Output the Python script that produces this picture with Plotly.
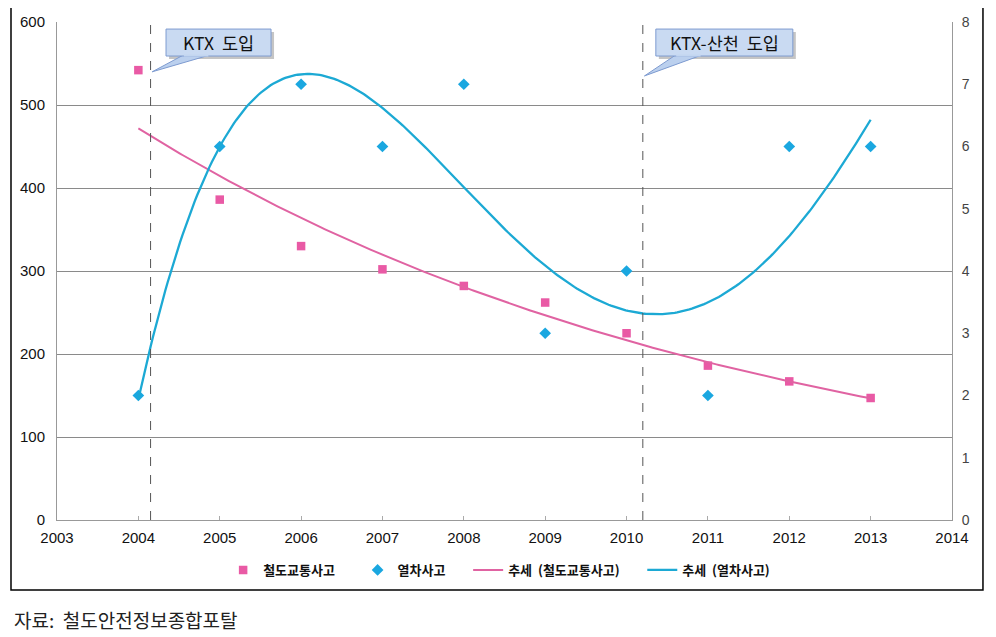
import numpy as np
import plotly.graph_objects as go

years = [2004, 2005, 2006, 2007, 2008, 2009, 2010, 2011, 2012, 2013]
rail_traffic = [542, 386, 330, 302, 282, 262, 225, 186, 167, 147]
train_acc = [2, 6, 7, 6, 7, 3, 4, 2, 6, 6]
event_years = [2004.15, 2010.2]
event_labels = ["KTX\u00a0\u00a0도입", "KTX-산천\u00a0\u00a0도입"]
source_text = "자료:\u00a0\u00a0철도안전정보종합포탈"
NB = "\u00a0"
series_names = ["철도교통사고", "열차사고", "추세" + NB * 2 + "(철도교통사고)", "추세" + NB * 2 + "(열차사고)"]

x = np.array(years, dtype=float)
xs = np.linspace(x.min(), x.max(), 300)

# Excel-style trend lines: exponential for rail traffic, 4th-order polynomial for train accidents
b, a = np.polyfit(x - 2004, np.log(rail_traffic), 1)
rail_trend = np.exp(a + b * (xs - 2004))
p4 = np.polyfit(x - x.mean(), train_acc, 4)
train_trend = np.polyval(p4, xs - x.mean())

PINK = "#E95AA5"
CYAN = "#1AA7E0"
pad = NB * 6

fig = go.Figure()
fig.add_trace(go.Scatter(x=years, y=rail_traffic, mode="markers", name=series_names[0] + pad,
                         marker=dict(symbol="square", size=8.5, color=PINK)))
fig.add_trace(go.Scatter(x=years, y=train_acc, mode="markers", name=series_names[1] + pad, yaxis="y2",
                         marker=dict(symbol="diamond", size=9, color=CYAN)))
fig.add_trace(go.Scatter(x=xs, y=rail_trend, mode="lines", name=series_names[2] + pad,
                         line=dict(color="#E063A2", width=2)))
fig.add_trace(go.Scatter(x=xs, y=train_trend, mode="lines", name=series_names[3], yaxis="y2",
                         line=dict(color="#1CA9D4", width=2.3)))

PX_PER_YEAR = 895 / 11.0
PX_PER_UNIT = 498 / 600.0
shapes = []
annotations = []
# outer chart border
shapes.append(dict(type="rect", xref="paper", yref="paper", x0=-0.0514, x1=1.0346, y0=-0.1406, y1=1.030,
                   line=dict(color="black", width=1.5), fillcolor="rgba(0,0,0,0)", layer="below"))
tip_vals = [540, 535]
box_offsets = [0.19, 0.16]
box_widths_px = [105, 137]
box_y0, box_y1 = 559.0, 591.5
for ev, lab, tip, off, wpx in zip(event_years, event_labels, tip_vals, box_offsets, box_widths_px):
    shapes.append(dict(type="line", xref="x", yref="y", x0=ev, x1=ev, y0=0, y1=600,
                       line=dict(color="#555", width=1, dash="dash")))
    bx0 = ev + off
    bx1 = bx0 + wpx / PX_PER_YEAR
    dx = 3 / PX_PER_YEAR
    dy = 3 / PX_PER_UNIT
    # shadow
    shapes.append(dict(type="rect", xref="x", yref="y", x0=bx0 + dx, x1=bx1 + dx, y0=box_y0 - dy, y1=box_y1 - dy,
                       fillcolor="rgba(90,90,90,0.35)", line=dict(width=0)))
    # callout wedge
    shapes.append(dict(type="path", xref="x", yref="y",
                       path=f"M {ev + 0.02} {tip} L {ev + 0.40} {box_y0 + 1} L {ev + 0.72} {box_y0 + 1} Z",
                       fillcolor="#BBD0EE", line=dict(color="#7E9BD0", width=1)))
    shapes.append(dict(type="rect", xref="x", yref="y", x0=bx0, x1=bx1, y0=box_y0, y1=box_y1,
                       fillcolor="#C9DAF2", line=dict(color="#7E9BD0", width=1)))
    # cover the wedge base edge
    shapes.append(dict(type="line", xref="x", yref="y", x0=ev + 0.41, x1=ev + 0.71, y0=box_y0 + 0.6, y1=box_y0 + 0.6,
                       line=dict(color="#C3D6F0", width=2)))
    annotations.append(dict(x=(bx0 + bx1) / 2, y=(box_y0 + box_y1) / 2, xref="x", yref="y",
                            xanchor="center", yanchor="middle", text=lab, showarrow=False,
                            font=dict(family="Noto Sans CJK KR", size=17.5, color="#111")))
annotations.append(dict(x=-0.0503, y=-0.2008, xref="paper", yref="paper", xanchor="left", yanchor="middle",
                        text=source_text, showarrow=False,
                        font=dict(family="Noto Sans CJK KR", size=19, color="#222")))

fig.update_layout(
    width=988, height=629, margin=dict(l=49, r=44, t=14, b=117, autoexpand=False),
    paper_bgcolor="white", plot_bgcolor="white",
    font=dict(family="Liberation Sans, Arial, sans-serif", size=15, color="#111"),
    xaxis=dict(range=[2003, 2014], dtick=1, tick0=2003, showgrid=False, showline=True,
               linecolor="#999", ticks="inside", ticklen=4, tickcolor="#aaa", zeroline=False,
               ticklabelstandoff=4),
    yaxis=dict(range=[0, 600], dtick=100, showgrid=True, gridcolor="#8a8a8a", showline=True,
               linecolor="#999", zeroline=False, ticks="", ticklabelstandoff=8),
    yaxis2=dict(range=[0, 8], dtick=1, overlaying="y", side="right", showgrid=False, showline=True,
                linecolor="#999", zeroline=False, ticks="", ticklabelstandoff=6,
                tickfont=dict(size=14, color="#444")),
    legend=dict(orientation="h", x=0.494, xanchor="center", y=-0.1004, yanchor="middle",
                font=dict(family="Noto Sans CJK KR", size=13, color="#111", weight="bold"),
                bgcolor="rgba(0,0,0,0)"),
    showlegend=True,
    shapes=shapes,
    annotations=annotations,
)
fig.write_html("out.html")
